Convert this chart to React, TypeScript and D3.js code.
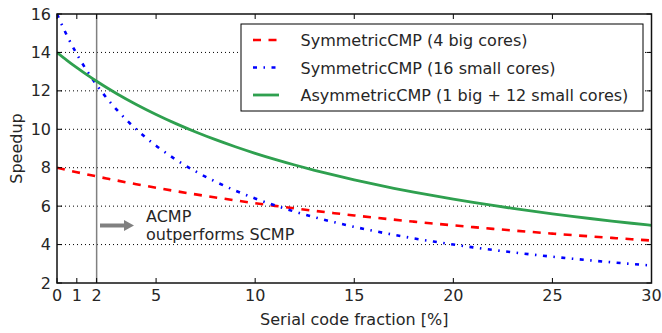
import React from "react";
import * as d3 from "d3";

// Serial code fraction in percent
const serialFraction = [0, 0.5, 1, 1.5, 2, 2.5, 3, 4, 5, 6, 7, 8, 9, 10, 11, 12, 13, 14, 15, 16, 17, 18, 19, 20, 21, 22, 23, 24, 25, 26, 27, 28, 29, 30];

const symBig = [8.0, 7.882, 7.767, 7.656, 7.547, 7.442, 7.339, 7.143, 6.957, 6.780, 6.612, 6.452, 6.299, 6.154, 6.015, 5.882, 5.755, 5.634, 5.517, 5.405, 5.298, 5.195, 5.096, 5.0, 4.908, 4.819, 4.734, 4.651, 4.571, 4.494, 4.420, 4.348, 4.278, 4.211];
const symSmall = [16.0, 14.884, 13.913, 13.061, 12.308, 11.636, 11.034, 10.0, 9.143, 8.421, 7.805, 7.273, 6.809, 6.4, 6.038, 5.714, 5.424, 5.161, 4.923, 4.706, 4.507, 4.324, 4.156, 4.0, 3.855, 3.721, 3.596, 3.478, 3.368, 3.265, 3.168, 3.077, 2.991, 2.909];
const asym = [14.0, 13.592, 13.208, 12.844, 12.5, 12.174, 11.864, 11.290, 10.769, 10.294, 9.859, 9.459, 9.091, 8.75, 8.434, 8.140, 7.865, 7.609, 7.368, 7.143, 6.931, 6.731, 6.542, 6.364, 6.195, 6.034, 5.882, 5.738, 5.6, 5.469, 5.344, 5.224, 5.109, 5.0];

const seriesNames = ["SymmetricCMP (4 big cores)", "SymmetricCMP (16 small cores)", "AsymmetricCMP (1 big + 12 small cores)"];
const xTicks = [0, 1, 2, 5, 10, 15, 20, 25, 30];
const yTicks = [2, 4, 6, 8, 10, 12, 14, 16];
const gridTicks = [4, 6, 8, 10, 12, 14];
const markerX = 2;
const annotation = ["ACMP", "outperforms SCMP"];

const FONT = "DejaVu Sans, sans-serif";

export default function App() {
  const W = 662, H = 333;
  const left = 57, right = 651.5, top = 14, bottom = 283;
  const x = d3.scaleLinear().domain([0, 30]).range([left, right]);
  const y = d3.scaleLinear().domain([2, 16]).range([bottom, top]);
  const line = d3.line<number>().x((_, i) => x(serialFraction[i])).y((d) => y(d)).curve(d3.curveMonotoneX);

  const styles = [
    { data: symBig, color: "#ff0000", dash: "8,7.5", width: 2.6 },
    { data: symSmall, color: "#0000ff", dash: "4,6.5,1.5,6.5", width: 2.6 },
    { data: asym, color: "#2fa04f", dash: "", width: 2.8 },
  ];

  const legX = 241, legY = 24, legW = 402, legH = 87;
  const rowY = [40, 67.5, 95];
  const txt = "#262626";

  return (
    <svg width={W} height={H} style={{ position: "absolute", left: 0, top: 0, background: "#fff" }} fontFamily={FONT}>
      <rect x={0} y={0} width={W} height={H} fill="#fff" />
      {gridTicks.map((t) => (
        <line key={t} x1={left} x2={right} y1={y(t)} y2={y(t)} stroke="#000" strokeWidth={1} strokeDasharray="1,3" />
      ))}
      <line x1={x(markerX)} x2={x(markerX)} y1={top} y2={bottom} stroke="#808080" strokeWidth={1.5} />
      <clipPath id="clip">
        <rect x={left} y={top} width={right - left} height={bottom - top} />
      </clipPath>
      <g clipPath="url(#clip)">
        {styles.map((s, i) => (
          <path key={i} d={line(s.data) || ""} fill="none" stroke={s.color} strokeWidth={s.width} strokeDasharray={s.dash || undefined} />
        ))}
      </g>
      {/* ticks */}
      {xTicks.map((t) => (
        <g key={t}>
          <line x1={x(t)} x2={x(t)} y1={bottom} y2={bottom - 5} stroke="#000" strokeWidth={1} />
          <line x1={x(t)} x2={x(t)} y1={top} y2={top + 5} stroke="#000" strokeWidth={1} />
          <text x={x(t)} y={301} textAnchor="middle" fontSize={16} fill={txt}>{t}</text>
        </g>
      ))}
      {yTicks.map((t) => (
        <g key={t}>
          <line x1={left} x2={left + 5} y1={y(t)} y2={y(t)} stroke="#000" strokeWidth={1} />
          <line x1={right} x2={right - 5} y1={y(t)} y2={y(t)} stroke="#000" strokeWidth={1} />
          <text x={51} y={y(t) + 5.5} textAnchor="end" fontSize={16} fill={txt}>{t}</text>
        </g>
      ))}
      <rect x={left} y={top} width={right - left} height={bottom - top} fill="none" stroke="#111" strokeWidth={1.5} />
      <text x={(left + right) / 2} y={325} textAnchor="middle" fontSize={16} fill={txt}>Serial code fraction [%]</text>
      <text transform={`translate(22,${(top + bottom) / 2}) rotate(-90)`} textAnchor="middle" fontSize={16} fill={txt}>Speedup</text>
      {/* annotation */}
      <line x1={100} x2={126} y1={225.5} y2={225.5} stroke="#808080" strokeWidth={4} />
      <path d="M124,220 L134,225.5 L124,231 Z" fill="#808080" />
      <text x={146} y={221.5} fontSize={16} fill={txt}>{annotation[0]}</text>
      <text x={146} y={240} fontSize={16} fill={txt}>{annotation[1]}</text>
      {/* legend */}
      <rect x={legX} y={legY} width={legW} height={legH} fill="#fff" stroke="#000" strokeWidth={1} />
      {styles.map((s, i) => (
        <g key={i}>
          <line x1={253} x2={279} y1={rowY[i]} y2={rowY[i]} stroke={s.color} strokeWidth={s.width} strokeDasharray={s.dash || undefined} />
          <text x={300.5} y={rowY[i] + 6} fontSize={16} fill={txt}>{seriesNames[i]}</text>
        </g>
      ))}
    </svg>
  );
}
